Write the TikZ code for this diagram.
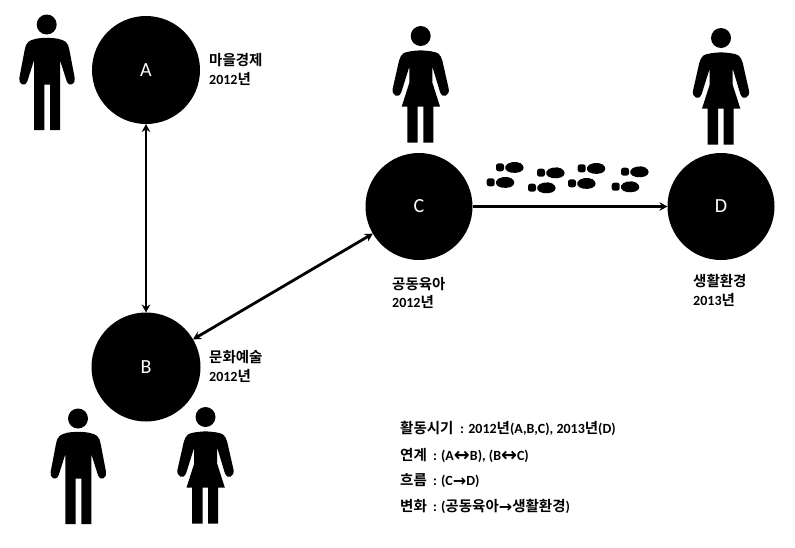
\documentclass[tikz,border=0pt]{standalone}
\usepackage{fontspec}
\setmainfont[BoldFont={Carlito Bold}]{Carlito}
\newfontfamily\krfont[BoldFont={Noto Sans CJK KR Bold}]{Noto Sans CJK KR}
\newfontfamily\arrfont{DejaVu Sans}
\usetikzlibrary{arrows.meta}
\newcommand{\Kr}[1]{{\krfont\bfseries\fontsize{14.5}{16}\selectfont #1}}
\newcommand{\Ar}[2][16]{\raisebox{-1pt}{\arrfont\bfseries\fontsize{#1}{16}\selectfont #2}}
\tikzset{
  hub/.style={circle,fill=black,minimum size=#1,inner sep=0pt,outer sep=0pt,text=white,font=\fontsize{20}{22}\selectfont},
  lab/.style={anchor=west,inner sep=0pt,font=\bfseries\fontsize{14}{16}\selectfont},
  link/.style={line width=2.8pt,{Stealth[length=8pt,width=8.5pt]}-{Stealth[length=8pt,width=8.5pt]}},
  flow/.style={line width=2.8pt,-{Stealth[length=8pt,width=8.5pt]}},
  man/.pic={
    \fill (0,0) circle (30);
    \fill (0,40) .. controls (-25,40) and (-45,44) .. (-55,52)
      .. controls (-62,58) and (-64,66) .. (-66,76) -- (-82,160)
      .. controls (-86,178) and (-66,190) .. (-58,170) -- (-38,107) -- (-38,317) -- (-7,317) -- (-7,180)
      -- (10,180) -- (10,317) -- (40,317) -- (40,107) -- (60,170)
      .. controls (68,190) and (88,178) .. (84,160) -- (68,76)
      .. controls (66,66) and (64,58) .. (57,52)
      .. controls (47,44) and (25,40) .. (0,40) -- cycle;
  },
  woman/.pic={
    \fill (0,0) circle (30);
    \fill (0,43) .. controls (-18,44) and (-42,46) .. (-52,52)
      .. controls (-58,56) and (-62,64) .. (-65,74) -- (-84,158)
      .. controls (-88,178) and (-66,190) .. (-58,168) -- (-34,92)
      -- (-34,140) -- (-57,212) -- (-40,212) -- (-40,320) -- (-9,320) -- (-9,212)
      -- (8,212) -- (8,320) -- (38,320) -- (38,212) -- (58,212) -- (35,140) -- (35,92)
      -- (58,168) .. controls (66,190) and (88,178) .. (84,158)
      -- (65,74) .. controls (62,64) and (58,56) .. (52,52)
      .. controls (42,46) and (18,44) .. (0,43) -- cycle;
  },
  print/.pic={
    \fill[rounded corners=2.5pt] (-12,-12) rectangle (12,12);
    \fill (16,-3) .. controls (20,-16) and (50,-20) .. (62,-12)
      .. controls (74,-4) and (74,8) .. (60,14)
      .. controls (44,20) and (20,16) .. (16,5) -- cycle;
  }
}
\begin{document}
\begin{tikzpicture}[x=1pt,y=-1pt]
\useasboundingbox (0,0) rectangle (795,547);
\node[hub=108pt] (a) at (146,70) {A};
\node[hub=109pt] (b) at (146,367) {B};
\node[hub=107pt] (c) at (419,206.5) {C};
\node[hub=107pt] (d) at (721,206.5) {D};
\draw[link] (a) -- (b);
\draw[link] (b) -- (c);
\draw[flow] (c) -- (d);
\pic[scale=1/3] at (46.7,24.5) {man};
\pic[scale=1/3] at (78,418.5) {man};
\pic[scale=1/3] at (205.5,417) {woman};
\pic[scale=1/3] at (420.7,36) {woman};
\pic[scale=1/3] at (721,38) {woman};
\pic[scale=1/3] at (500,167.3) {print};
\pic[scale=1/3] at (490.7,182.3) {print};
\pic[scale=1/3] at (541,172.7) {print};
\pic[scale=1/3] at (532,187.7) {print};
\pic[scale=1/3] at (581.7,168.3) {print};
\pic[scale=1/3] at (572,183.3) {print};
\pic[scale=1/3] at (625,171.7) {print};
\pic[scale=1/3] at (615.7,186.7) {print};
\node[lab] (t1) at (209,60) {\Kr{마을경제}};
\node[lab] (t2) at (209,79) {2012\Kr{년}};
\node[lab] (t3) at (392,284) {\Kr{공동육아}};
\node[lab] (t4) at (392,302) {2012\Kr{년}};
\node[lab] (t5) at (693,281) {\Kr{생활환경}};
\node[lab] (t6) at (693,300) {2013\Kr{년}};
\node[lab] (t7) at (209,357) {\Kr{문화예술}};
\node[lab] (t8) at (209,376) {2012\Kr{년}};
\node[lab] (l1) at (400,428) {\Kr{활동시기}\hspace{3.5pt} : 2012\Kr{년}(A,B,C), 2013\Kr{년}(D)};
\node[lab] (l2) at (400,455) {\Kr{연계}\hspace{3pt} : (A\Ar[19]{↔}B), (B\Ar[19]{↔}C)};
\node[lab] (l3) at (400,481) {\Kr{흐름}\hspace{3pt} : (C\Ar{→}D)};
\node[lab] (l4) at (400,506) {\Kr{변화}\hspace{3pt} : (\Kr{공동육아}\Ar{→}\Kr{생활환경})};
\end{tikzpicture}
\end{document}
